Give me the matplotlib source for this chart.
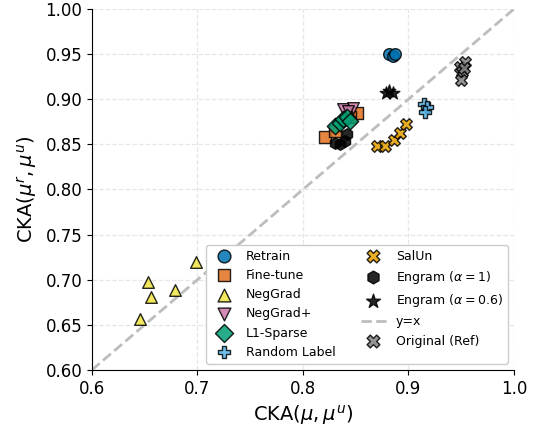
import numpy as np
import matplotlib
matplotlib.use("Agg")
from matplotlib import pyplot as plt

# CKA(mu, mu^u) on x, CKA(mu^r, mu^u) on y, one list per method
retrain_x = [0.882, 0.885, 0.887]
retrain_y = [0.950, 0.948, 0.950]

finetune_x = [0.821, 0.851, 0.830, 0.845]
finetune_y = [0.858, 0.885, 0.865, 0.880]

neggrad_x = [0.6455, 0.653, 0.656, 0.679, 0.699]
neggrad_y = [0.657, 0.698, 0.681, 0.689, 0.720]

neggradp_x = [0.838, 0.847, 0.843]
neggradp_y = [0.889, 0.890, 0.887]

l1_x = [0.830, 0.835, 0.838, 0.842, 0.845]
l1_y = [0.870, 0.874, 0.878, 0.880, 0.876]

randlab_x = [0.915, 0.918, 0.916]
randlab_y = [0.895, 0.891, 0.886]

salun_x = [0.870, 0.878, 0.886, 0.892, 0.898]
salun_y = [0.848, 0.848, 0.855, 0.863, 0.873]

engram1_x = [0.830, 0.835, 0.840, 0.842]
engram1_y = [0.851, 0.850, 0.854, 0.861]

engram06_x = [0.879, 0.882, 0.885]
engram06_y = [0.907, 0.909, 0.907]

orig_x = [0.949, 0.954, 0.951, 0.950, 0.953]
orig_y = [0.936, 0.941, 0.930, 0.921, 0.935]

plt.figure(figsize=(5.34, 4.28), dpi=100)
plt.subplots_adjust(left=0.172, right=0.9625, bottom=0.1355, top=0.979)
ax = plt.gca()

ax.grid(True, linestyle='--', color='#e6e6e6', linewidth=0.9)
ax.set_axisbelow(True)

plt.plot([0.6, 1.0], [0.6, 1.0], '--', color='#bdbdbd', linewidth=2, label='y=x', zorder=1)

ms = 70
ew = 1.0
a = 0.85
plt.scatter(retrain_x, retrain_y, s=ms, marker='o', color='#0072B2', alpha=a, edgecolors='black', linewidths=ew, label='Retrain', zorder=3)
plt.scatter(finetune_x, finetune_y, s=ms, marker='s', color='#E2701E', alpha=a, edgecolors='black', linewidths=ew, label='Fine-tune', zorder=3)
plt.scatter(neggrad_x, neggrad_y, s=ms, marker='^', color='#F0E442', alpha=a, edgecolors='black', linewidths=ew, label='NegGrad', zorder=3)
plt.scatter(neggradp_x, neggradp_y, s=ms, marker='v', color='#CC79A7', alpha=a, edgecolors='black', linewidths=ew, label='NegGrad+', zorder=3)
plt.scatter(l1_x, l1_y, s=ms, marker='D', color='#009E73', alpha=a, edgecolors='black', linewidths=ew, label='L1-Sparse', zorder=3)
plt.scatter(randlab_x, randlab_y, s=ms, marker='P', color='#56B4E9', alpha=a, edgecolors='black', linewidths=ew, label='Random Label', zorder=3)
plt.scatter(salun_x, salun_y, s=ms, marker='X', color='#E69F00', alpha=a, edgecolors='black', linewidths=ew, label='SalUn', zorder=3)
plt.scatter(engram1_x, engram1_y, s=ms, marker='h', color='black', alpha=a, edgecolors='black', linewidths=ew, label=r'Engram ($\alpha=1$)', zorder=3)
plt.scatter(engram06_x, engram06_y, s=ms * 1.3, marker='*', color='black', alpha=a, edgecolors='black', linewidths=ew, label=r'Engram ($\alpha=0.6$)', zorder=3)
plt.scatter(orig_x, orig_y, s=ms, marker='X', color='#808080', alpha=a, edgecolors='black', linewidths=ew, label='Original (Ref)', zorder=3)

h, l = ax.get_legend_handles_labels()
order = [1, 2, 3, 4, 5, 6, 7, 8, 9, 0, 10]
h = [h[i] for i in order]
l = [l[i] for i in order]
plt.legend(h, l, loc='lower right', ncol=2, fontsize=9, framealpha=1, labelspacing=0.5, markerscale=1.1)

plt.xlim(0.6, 1.0)
plt.ylim(0.6, 1.0)
plt.xticks(np.linspace(0.6, 1.0, 5), fontsize=12)
plt.yticks(np.linspace(0.6, 1.0, 9), fontsize=12)
ax.yaxis.set_major_formatter(matplotlib.ticker.FormatStrFormatter('%.2f'))
ax.xaxis.set_major_formatter(matplotlib.ticker.FormatStrFormatter('%.1f'))
ax.spines['top'].set_visible(False)
ax.spines['right'].set_visible(False)
plt.xlabel(r'CKA$(\mu,\mu^u)$', fontsize=14)
plt.ylabel(r'CKA$(\mu^r,\mu^u)$', fontsize=14)

plt.savefig("out.png", dpi=100)
